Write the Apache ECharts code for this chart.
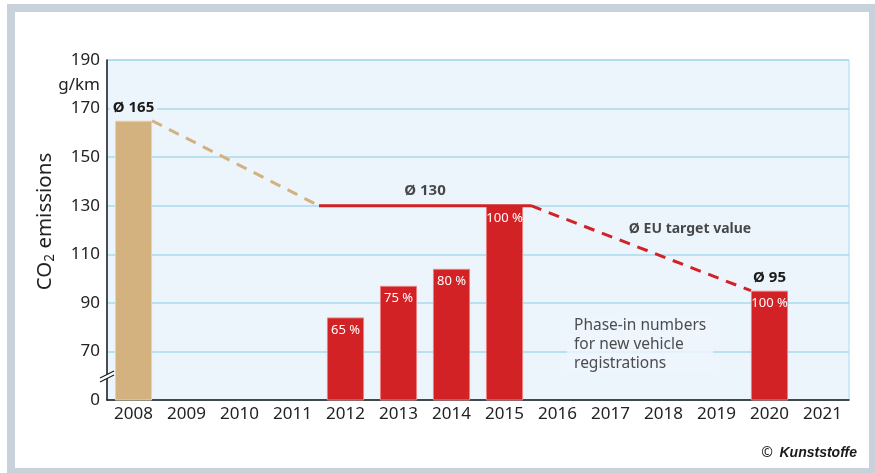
<!DOCTYPE html>
<html lang="en" style="height: 100%">
<head>
  <meta charset="utf-8">
</head>
<body style="height: 100%; margin: 0; background: #fff">
  <div id="container" style="width: 875px; height: 473px"></div>

  <script type="text/javascript" src="https://cdn.jsdelivr.net/npm/echarts@6/dist/echarts.min.js"></script>
  <script type="text/javascript">
    var years = ['2008', '2009', '2010', '2011', '2012', '2013', '2014', '2015', '2016', '2017', '2018', '2019', '2020', '2021'];
    var emissions = [165, null, null, null, 84, 97, 104, 130, null, null, null, null, 95, null];
    var phaseIn = ['', '', '', '', '65 %', '75 %', '80 %', '100 %', '', '', '', '', '100 %', ''];
    var avgLabels = ['Ø 165', '', '', '', '', '', '', '', '', '', '', '', 'Ø 95', ''];
    // x in category units (0 = left edge of 2008, 14 = right edge of 2021)
    var historicTrend = [[0.85, 165], [4, 130]];
    var target2015 = [[4, 130], [8, 130]];
    var targetTrend = [[8, 130], [12.15, 95]];
    var yMin = 50, yMax = 190, yStep = 20;   // 50 sits on the axis break and reads "0"

    var font = 'Noto Sans';
    var tan = '#d4b27f';
    var red = '#d22226';
    var plotBg = '#edf5fc';
    var gridBlue = '#a9d8ef';

    var dom = document.getElementById('container');
    var myChart = echarts.init(dom, null, { renderer: 'canvas' });

    var barData = emissions.map(function (v, i) {
      var first = i === 0;
      return {
        value: v,
        itemStyle: {
          color: first ? tan : red,
          borderColor: first ? '#e6d2ae' : '#ea7f7f',
          borderWidth: 1
        }
      };
    });

    var option = {
      backgroundColor: '#fff',
      textStyle: { fontFamily: font },
      grid: {
        left: 107, top: 60, right: 26, bottom: 73,
        show: true, backgroundColor: plotBg, borderColor: gridBlue, borderWidth: 1
      },
      xAxis: [{
        type: 'category',
        data: years,
        axisLine: { lineStyle: { color: '#1a1a1a', width: 1.5 } },
        axisTick: { inside: true, length: 7, lineStyle: { color: gridBlue } },
        axisLabel: { fontSize: 17, color: '#222', margin: 6, fontFamily: font }
      }, {
        type: 'value', min: 0, max: 14, show: false
      }],
      yAxis: {
        type: 'value',
        min: yMin, max: yMax, interval: yStep,
        name: '{a|CO}{s|2}{a| emissions}',
        nameLocation: 'middle',
        nameGap: 50,
        nameRotate: 90,
        nameTextStyle: {
          padding: [0, 0, 0, 17],
          rich: {
            a: { fontSize: 20.5, color: '#222', fontFamily: font, lineHeight: 24 },
            s: { fontSize: 13.5, color: '#222', fontFamily: font, lineHeight: 13, verticalAlign: 'bottom', padding: [7, 0, 0, 0] }
          }
        },
        axisLine: { show: true, lineStyle: { color: '#1a1a1a', width: 1.5 } },
        axisTick: { show: false },
        axisLabel: {
          fontSize: 17, color: '#222', margin: 7, fontFamily: font,
          formatter: function (v) { return v === yMin ? '0' : String(v); }
        },
        splitLine: { lineStyle: { color: gridBlue, width: 1.5 } }
      },
      series: [
        {
          type: 'bar',
          data: barData,
          barWidth: '70%',
          label: {
            show: true, position: 'insideTop', distance: 6,
            color: '#fff', fontSize: 13, fontFamily: font,
            formatter: function (p) { return phaseIn[p.dataIndex]; }
          },
          z: 3
        },
        {
          type: 'bar',
          data: emissions,
          barWidth: '70%',
          barGap: '-100%',
          itemStyle: { color: 'rgba(0,0,0,0)' },
          label: {
            show: true, position: 'top', distance: 5,
            color: '#1a1a1a', fontSize: 15, fontWeight: 'bold', fontFamily: font,
            backgroundColor: plotBg, padding: [0, 3],
            formatter: function (p) { return avgLabels[p.dataIndex]; }
          },
          silent: true,
          z: 4
        },
        {
          type: 'line', xAxisIndex: 1, data: historicTrend, symbol: 'none',
          lineStyle: { color: tan, width: 3, type: [11, 8] }, z: 5
        },
        {
          type: 'line', xAxisIndex: 1, data: target2015, symbol: 'none',
          lineStyle: { color: red, width: 3 }, z: 5
        },
        {
          type: 'line', xAxisIndex: 1, data: targetTrend, symbol: 'none',
          lineStyle: { color: red, width: 3, type: [11, 8] }, z: 5
        },
        {
          type: 'scatter', xAxisIndex: 1, symbolSize: 0, silent: true, z: 6,
          data: [
            { value: [6, 130], label: { position: 'top', distance: 7, formatter: 'Ø 130' } },
            { value: [11, 120.5], label: { position: 'inside', fontSize: 14, formatter: 'Ø EU target value' } },
            {
              value: [8.68, 72.7],
              label: {
                position: 'right', distance: 0, align: 'left',
                fontSize: 15.5, fontWeight: 'normal', color: '#222', lineHeight: 19,
                backgroundColor: plotBg, padding: [0, 7],
                formatter: 'Phase-in numbers\nfor new vehicle\nregistrations'
              }
            }
          ],
          label: { show: true, color: '#1a1a1a', fontSize: 15, fontWeight: 'bold', fontFamily: font }
        }
      ],
      graphic: [
        {
          type: 'rect', silent: true, z: 100,
          shape: { x: 11, y: 8, width: 862, height: 464 },
          style: { fill: 'none', stroke: '#c9d2da', lineWidth: 8 }
        },
        {
          type: 'text', silent: true, z: 100,
          style: { x: 100, y: 85, text: 'g/km', font: '17px "Noto Sans"', fill: '#222', textAlign: 'right', textVerticalAlign: 'middle' }
        },
        {
          type: 'polygon', silent: true, z: 100,
          shape: { points: [[100, 378], [114, 371], [114, 375], [100, 382]] },
          style: { fill: '#fff' }
        },
        {
          type: 'line', silent: true, z: 101,
          shape: { x1: 100, y1: 378, x2: 114, y2: 371 },
          style: { stroke: '#1a1a1a', lineWidth: 1.2 }
        },
        {
          type: 'line', silent: true, z: 101,
          shape: { x1: 100, y1: 382, x2: 114, y2: 375 },
          style: { stroke: '#1a1a1a', lineWidth: 1.2 }
        },
        {
          type: 'text', silent: true, z: 100,
          style: {
            x: 857, y: 453, textAlign: 'right', textVerticalAlign: 'middle',
            text: '{c|©}  {k|Kunststoffe}',
            rich: {
              c: { fontSize: 14, fontFamily: font, fill: '#222' },
              k: { fontSize: 14, fontFamily: 'Liberation Sans', fontWeight: 'bold', fontStyle: 'italic', fill: '#1a1a1a' }
            }
          }
        }
      ]
    };

    myChart.setOption(option);
    window.addEventListener('resize', myChart.resize);
  </script>
</body>
</html>
